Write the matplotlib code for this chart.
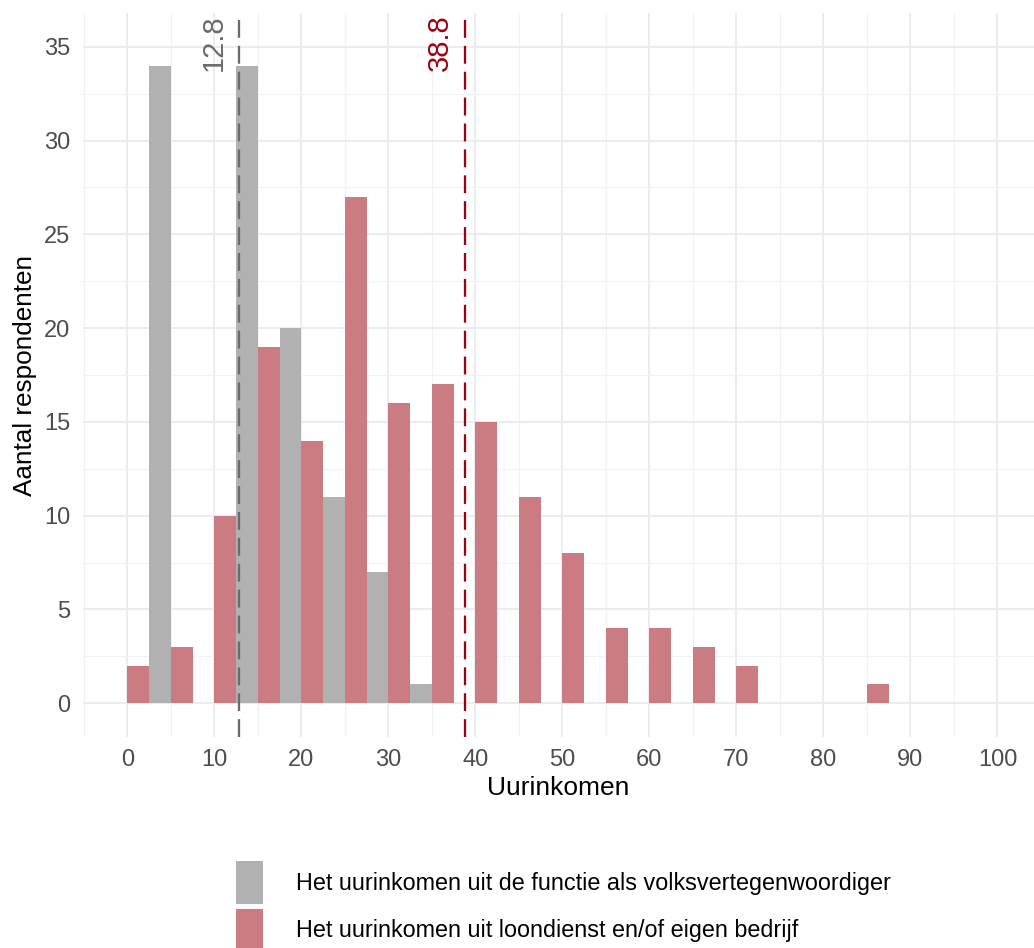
import matplotlib
matplotlib.use('Agg')
import matplotlib.pyplot as plt
from matplotlib.patches import Patch
import numpy as np

plt.rcParams['font.family'] = ['Liberation Sans', 'DejaVu Sans']

# Bin centres (width 5) and counts per group
bin_centers = [0, 5, 10, 15, 20, 25, 30, 35, 40, 45, 50, 55, 60, 65, 70, 75, 80, 85]
gray_counts = [0, 34, 0, 34, 20, 11, 7, 1, 0, 0, 0, 0, 0, 0, 0, 0, 0, 0]
red_counts = [2, 3, 10, 19, 14, 27, 16, 17, 15, 11, 8, 4, 4, 3, 2, 0, 0, 1]

gray_mean = 12.8
red_mean = 38.8

labels = ['Het uurinkomen uit de functie als volksvertegenwoordiger',
          'Het uurinkomen uit loondienst en/of eigen bedrijf']

gray_col = '#B1B1B1'
red_col = '#CB7C83'
gray_line = '#6B6B6B'
red_line = '#9E0014'
binwidth = 5

fig = plt.figure(figsize=(10.34, 9.48), dpi=100)
ax = fig.add_axes([83 / 1034, 1 - 737 / 948, 1 - 83 / 1034, (737 - 13) / 948])

centers = np.array(bin_centers, dtype=float)
# dodged: gray on the left half, red on the right half of each bin
ax.bar(centers - binwidth / 2, gray_counts, width=binwidth / 2, align='edge',
       color=gray_col, zorder=2)
ax.bar(centers, red_counts, width=binwidth / 2, align='edge',
       color=red_col, zorder=2)

ax.axvline(gray_mean, color=gray_line, lw=1.65, dashes=(7.8, 3.5), zorder=3)
ax.axvline(red_mean, color=red_line, lw=1.65, dashes=(7.8, 3.5), zorder=3)
ax.text(gray_mean - 1.3, 36.75, f'{gray_mean}', rotation=90, ha='right', va='top',
        color=gray_line, fontsize=21)
ax.text(red_mean - 1.3, 36.75, f'{red_mean}', rotation=90, ha='right', va='top',
        color=red_line, fontsize=21)

ax.set_xlim(-5.1, 104.2)
ax.set_ylim(-1.8, 36.8)
ax.set_xticks(np.arange(0, 101, 10))
ax.set_xticks(np.arange(-5, 105, 10), minor=True)
ax.set_yticks(np.arange(0, 36, 5))
ax.set_yticks(np.arange(2.5, 36, 5), minor=True)

ax.grid(which='major', color='#EBEBEB', lw=1.3, zorder=0)
ax.grid(which='minor', color='#F2F2F2', lw=0.8, zorder=0)
ax.set_axisbelow(True)
for s in ax.spines.values():
    s.set_visible(False)
ax.tick_params(which='both', length=0, labelsize=17, labelcolor='#4D4D4D')
ax.tick_params(axis='x', pad=9)
ax.tick_params(axis='y', pad=9)

ax.set_xlabel('Uurinkomen', fontsize=19, labelpad=3)
ax.set_ylabel('Aantal respondenten', fontsize=18.8, labelpad=5)

handles = [Patch(facecolor=gray_col, edgecolor='none'),
           Patch(facecolor=red_col, edgecolor='none')]
fig.legend(handles, labels, loc='upper left', bbox_to_anchor=(236 / 1034, 1 - 861 / 948),
           frameon=False, fontsize=16.8, handlelength=1.15, handleheight=2.45,
           handletextpad=1.4, labelspacing=0.2, borderpad=0, borderaxespad=0)

fig.savefig('out.png', dpi=100)
